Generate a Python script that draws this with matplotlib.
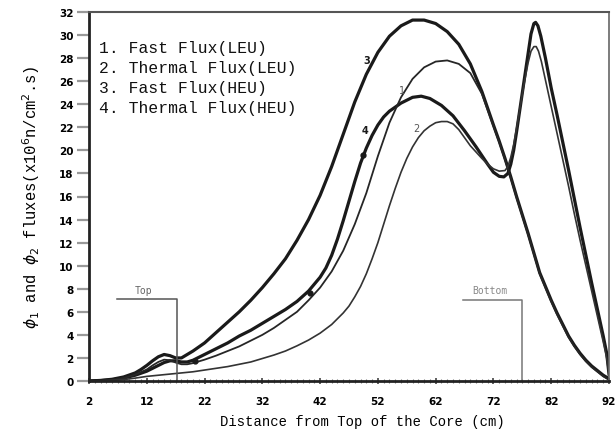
import matplotlib
matplotlib.use("Agg")
import matplotlib.pyplot as plt

# ---------------- data ----------------
x_fast_heu = [2, 4, 6, 8, 10, 11, 12, 13, 14, 15, 16, 17, 18, 19, 20, 22, 24, 26, 28, 30,
              32, 34, 36, 38, 40, 42, 44, 46, 48, 50, 52, 54, 56, 58, 60, 62, 64, 66, 68,
              70, 72, 73, 74, 75, 76, 77, 78, 79, 80, 81, 82, 83, 84, 85, 86, 87, 88, 89,
              90, 91, 92]
y_fast_heu = [0, 0.05, 0.15, 0.35, 0.7, 1.0, 1.35, 1.75, 2.1, 2.3, 2.2, 2.0, 2.0, 2.3, 2.6,
              3.3, 4.2, 5.1, 6.0, 7.0, 8.1, 9.3, 10.6, 12.2, 14.0, 16.1, 18.6, 21.4, 24.2,
              26.6, 28.5, 29.9, 30.8, 31.3, 31.3, 31.0, 30.3, 29.2, 27.5, 25.1, 22.2, 20.8,
              19.3, 17.7, 16.0, 14.4, 12.8, 11.1, 9.4, 8.2, 7.0, 5.9, 4.9, 3.9, 3.1, 2.4,
              1.8, 1.3, 0.9, 0.5, 0.2]

x_fast_leu = [2, 4, 6, 8, 10, 12, 13, 14, 15, 16, 17, 18, 19, 20, 22, 24, 26, 28, 30, 32,
              34, 36, 38, 40, 42, 44, 46, 48, 50, 52, 54, 56, 58, 60, 62, 64, 66, 68, 70,
              72, 73, 74, 75, 76, 77, 78, 79, 80, 81, 82, 83, 84, 85, 86, 87, 88, 89, 90,
              91, 92]
y_fast_leu = [0, 0.03, 0.1, 0.25, 0.55, 1.0, 1.35, 1.65, 1.85, 1.8, 1.6, 1.45, 1.45, 1.55,
              1.85, 2.2, 2.6, 3.0, 3.5, 4.0, 4.6, 5.3, 6.0, 7.0, 8.1, 9.5, 11.3, 13.6, 16.3,
              19.5, 22.4, 24.6, 26.2, 27.2, 27.7, 27.8, 27.5, 26.7, 24.9, 22.1, 20.7, 19.2,
              17.6, 15.9, 14.3, 12.7, 11.0, 9.3, 8.1, 6.9, 5.8, 4.8, 3.8, 3.0, 2.3, 1.7,
              1.2, 0.8, 0.4, 0.1]

x_th_heu = [2, 4, 6, 8, 10, 12, 13, 14, 15, 16, 17, 18, 19, 20, 22, 24, 26, 28, 30, 32, 34,
            36, 38, 40, 42, 43, 44, 45, 46, 47, 48, 49, 50, 51, 52, 53, 54, 56, 58, 59.5,
            61, 63, 65, 67, 69, 71, 72, 73, 73.8, 74.5, 75, 75.5, 76, 76.5, 77, 77.5, 78,
            78.5, 79, 79.3, 79.7, 80.2, 81, 82, 83, 84, 85, 86, 87, 88, 89, 90, 91, 91.6, 92]
y_th_heu = [0, 0.03, 0.1, 0.25, 0.5, 0.85, 1.1, 1.35, 1.6, 1.75, 1.75, 1.65, 1.65, 1.8, 2.3,
            2.8, 3.3, 3.9, 4.4, 5.0, 5.6, 6.2, 6.9, 7.8, 9.0, 9.8, 10.9, 12.3, 13.9, 15.6,
            17.3, 18.9, 20.2, 21.3, 22.2, 22.9, 23.4, 24.1, 24.6, 24.7, 24.5, 23.9, 23.0,
            21.7, 20.3, 18.8, 18.1, 17.75, 17.7, 18.0, 18.8, 20.0, 21.6, 23.3, 25.0, 26.7,
            28.4, 30.1, 31.0, 31.1, 30.8, 29.9, 28.0, 25.4, 23.1, 20.7, 18.3, 15.8, 13.3,
            10.9, 8.5, 6.2, 3.9, 2.4, 0.6]

x_th_leu = [2, 5, 8, 10, 12, 14, 16, 18, 20, 22, 24, 26, 28, 30, 32, 34, 36, 38, 40, 42, 44,
            46, 47, 48, 49, 50, 51, 52, 53, 54, 55, 56, 57, 58, 59, 60, 61, 62, 63, 64, 65,
            66, 67, 68, 70, 71, 72, 73, 74, 74.5, 75, 75.5, 76, 76.5, 77, 77.5, 78, 78.5,
            79, 79.4, 79.8, 80.3, 81, 82, 83, 84, 85, 86, 87, 88, 89, 90, 91, 91.6, 92]
y_th_leu = [0, 0.03, 0.12, 0.25, 0.4, 0.5, 0.6, 0.7, 0.8, 0.95, 1.1, 1.25, 1.45, 1.65, 1.95,
            2.25, 2.6, 3.05, 3.55, 4.15, 4.9, 5.9, 6.5, 7.3, 8.2, 9.3, 10.6, 12.0, 13.6, 15.2,
            16.7, 18.1, 19.3, 20.3, 21.1, 21.7, 22.1, 22.4, 22.5, 22.5, 22.3, 21.8, 21.1,
            20.4, 19.3, 18.8, 18.4, 18.2, 18.25, 18.6, 19.4, 20.5, 21.9, 23.4, 24.9, 26.3,
            27.6, 28.6, 29.0, 29.0, 28.6, 27.7, 26.1, 23.8, 21.5, 19.2, 16.9, 14.5, 12.2,
            10.0, 7.8, 5.6, 3.4, 2.0, 0.5]

dots_x = [20.3, 40.2, 49.4]
dots_y = [1.7, 7.6, 19.6]

legend_lines = ["1. Fast Flux(LEU)", "2. Thermal Flux(LEU)",
                "3. Fast Flux(HEU)", "4. Thermal Flux(HEU)"]
curve_labels = ["3", "1", "4", "2"]
curve_label_x = [50.1, 56.2, 49.8, 58.7]
curve_label_y = [27.8, 25.2, 21.8, 21.9]

x_ticks = [2, 12, 22, 32, 42, 52, 62, 72, 82, 92]
y_ticks = list(range(0, 33, 2))

top_x = [6.8, 17.2, 17.2]
top_y = [7.1, 7.1, 0]
bottom_x = [66.7, 76.9, 76.9]
bottom_y = [7.0, 7.0, 0]

# ---------------- figure ----------------
fig = plt.figure(figsize=(6.15, 4.39), dpi=100)
ax = fig.add_axes([89 / 615, 57 / 439, (609 - 89) / 615, (383 - 14) / 439])

ink = "#1a1a1a"
ax.plot(x_fast_heu, y_fast_heu, color=ink, lw=2.3, solid_joinstyle="round")
ax.plot(x_th_heu, y_th_heu, color=ink, lw=2.3, solid_joinstyle="round")
ax.plot(x_fast_leu, y_fast_leu, color="#262626", lw=1.3, solid_joinstyle="round")
ax.plot(x_th_leu, y_th_leu, color="#333333", lw=1.2, solid_joinstyle="round")
ax.plot(dots_x, dots_y, linestyle="none", marker="o", ms=3.5, color=ink)

# Top / Bottom markers
ax.plot(top_x, top_y, color="#555555", lw=1.1)
ax.plot(bottom_x, bottom_y, color="#777777", lw=1.1)
ax.text(11.5, 7.5, "Top", fontsize=7, color="#666666", family="DejaVu Sans Mono",
        ha="center", va="bottom")
ax.text(71.3, 7.5, "Bottom", fontsize=7, color="#888888", family="DejaVu Sans Mono",
        ha="center", va="bottom")

# curve number labels
for lab, lx, ly in zip(curve_labels, curve_label_x, curve_label_y):
    bold = lab in ("3", "4")
    ax.text(lx, ly, lab, fontsize=7, fontweight="bold" if bold else "normal",
            color=ink if bold else "#555555", ha="center", va="center")

# legend text block
for i, line in enumerate(legend_lines):
    ax.text(0.02, 0.905 - i * 0.0545, line, transform=ax.transAxes,
            family="Liberation Mono", fontsize=11.8, color="#111111",
            ha="left", va="center")

ax.set_xlim(2, 92)
ax.set_ylim(0, 32)
ax.set_xticks(x_ticks)
ax.set_yticks(y_ticks)
ax.set_xticks(range(2, 93), minor=True)
ax.tick_params(axis="x", which="major", direction="inout", length=5, width=1.2,
               color="#444444", pad=8, labelsize=7.5)
ax.tick_params(axis="x", which="minor", direction="inout", length=3, width=0.8,
               color="#777777")
ax.tick_params(axis="y", which="major", direction="out", length=9, width=1.6,
               color="#999999", pad=2, labelsize=7.5)
for t in ax.get_xticklabels() + ax.get_yticklabels():
    t.set_fontweight("bold")

for side in ("left", "bottom"):
    ax.spines[side].set_linewidth(2.0)
    ax.spines[side].set_color("#222222")
ax.spines["top"].set_linewidth(1.5)
ax.spines["top"].set_color("#555555")
ax.spines["right"].set_linewidth(1.2)
ax.spines["right"].set_color("#666666")

ax.set_xlabel("Distance from Top of the Core (cm)", family="Liberation Mono",
              fontsize=10, labelpad=9)
ax.xaxis.set_label_coords(0.525, -0.09)
ax.set_ylabel(r"$\phi_1$ and $\phi_2$ fluxes(x10$^6$n/cm$^2$.s)",
              family="Liberation Mono", fontsize=11.2, labelpad=12)

fig.savefig("out.png", dpi=100)
